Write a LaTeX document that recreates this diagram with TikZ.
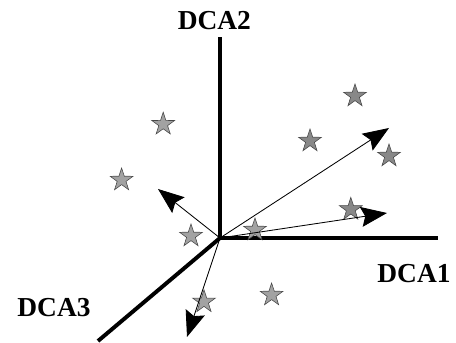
\documentclass[tikz,border=0pt]{standalone}
\usepackage{tikz}
\usepackage{fontspec}
\setmainfont{Liberation Serif}
\usetikzlibrary{shapes.geometric, arrows.meta}
\definecolor{darkstar}{RGB}{136, 136, 136}
\definecolor{lightstar}{RGB}{162, 162, 162}
\definecolor{staredge}{RGB}{70, 70, 70}

\begin{document}
\begin{tikzpicture}[
    axis/.style={line width=2.8pt},
    axislabel/.style={font=\fontsize{19.5}{20}\selectfont\bfseries},
    vector/.style={-{Stealth[length=0.65cm, width=0.5cm, inset=0.1cm]}, line width=0.6pt},
    sample/.style={star, star points=5, star point ratio=2.6, minimum size=0.6cm, inner sep=0pt, draw=staredge, line width=0.4pt},
    darksample/.style={sample, fill=darkstar},
    lightsample/.style={sample, fill=lightstar}
]
\useasboundingbox (0,0) rectangle (11.4,8.575);

% Axes
\coordinate (origin) at (5.5, 2.625);
\coordinate (dca1end) at (10.95, 2.625);
\coordinate (dca2end) at (5.5, 7.65);
\coordinate (dca3end) at (2.45, 0.05);

\draw[axis] (origin) -- (dca1end);
\draw[axis] (origin) -- (dca2end);
\draw[axis] (origin) -- (dca3end);

\node[axislabel] (dca1) at (10.35, 1.725) {DCA1};
\node[axislabel] (dca2) at (5.36, 8.06) {DCA2};
\node[axislabel] (dca3) at (1.35, 0.89) {DCA3};

% Samples
\node[darksample] (s1) at (8.875, 6.175) {};
\node[darksample] (s2) at (7.75, 5.05) {};
\node[darksample] (s3) at (9.725, 4.675) {};
\node[darksample] (s4) at (8.77, 3.34) {};
\node[lightsample] (s5) at (6.375, 2.825) {};
\node[lightsample] (s6) at (4.08, 5.47) {};
\node[lightsample] (s7) at (3.04, 4.075) {};
\node[lightsample] (s8) at (4.775, 2.675) {};
\node[lightsample] (s9) at (5.1, 1.03) {};
\node[lightsample] (s10) at (6.79, 1.2) {};

% Vectors
\coordinate (v1) at (9.725, 5.375);
\coordinate (v2) at (9.675, 3.25);
\coordinate (v3) at (3.95, 3.85);
\coordinate (v4) at (4.675, 0.15);

\draw[vector] (origin) -- (v1);
\draw[vector] (origin) -- (v2);
\draw[vector] (origin) -- (v3);
\draw[vector] (origin) -- (v4);

\end{tikzpicture}
\end{document}
